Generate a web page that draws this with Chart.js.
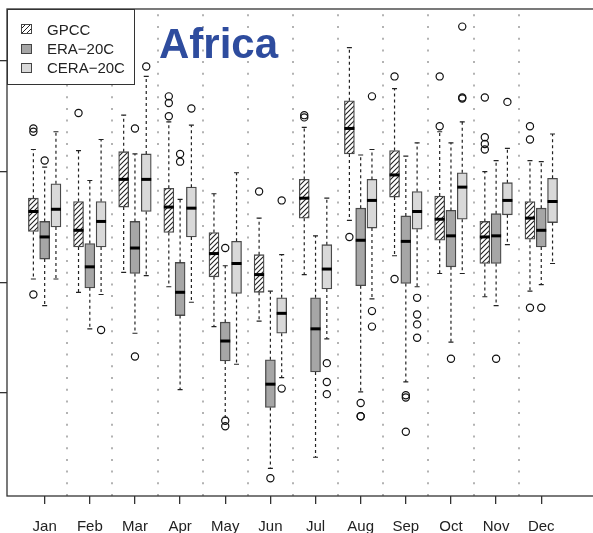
<!DOCTYPE html>
<html>
<head>
<meta charset="utf-8">
<script src="https://cdn.jsdelivr.net/npm/chart.js@4/dist/chart.umd.min.js"></script>
<style>
html, body { margin: 0; padding: 0; background: #fff; overflow: hidden; }
#wrap { position: relative; width: 600px; height: 533px; }
#title { position: absolute; left: 159px; top: 23px; font: bold 42px "Liberation Sans", Arial, sans-serif; line-height: 42px; color: #2e4c9e; }
#legend { position: absolute; left: 7px; top: 9px; width: 126px; height: 74px; border: 1.3px solid #333; background: #fff; }
.sw { position: absolute; left: 13px; width: 9px; height: 8px; border: 1.3px solid #444; }
.lt { position: absolute; left: 39px; font: 15px "Liberation Sans", Arial, sans-serif; line-height: 19px; color: #222; white-space: nowrap; }
</style>
</head>
<body>
<div id="wrap">
  <canvas id="boxes" width="600" height="533"></canvas>
  <div id="legend">
    <div class="sw" style="top:14px;background:repeating-linear-gradient(135deg,#fff 0 1.6px,#222 1.6px 2.6px,#fff 2.6px 3.6px)"></div>
    <div class="lt" style="top:10px">GPCC</div>
    <div class="sw" style="top:34px;background:#a6a6a6"></div>
    <div class="lt" style="top:29px">ERA−20C</div>
    <div class="sw" style="top:53px;background:#d9d9d9"></div>
    <div class="lt" style="top:48px">CERA−20C</div>
  </div>
  <div id="title">Africa</div>
</div>
<script>
// Mese per mese, tre dataset (GPCC, ERA-20C, CERA-20C)
const months = ['Jan', 'Feb', 'Mar', 'Apr', 'May', 'Jun', 'Jul', 'Aug', 'Sep', 'Oct', 'Nov', 'Dec'];
const yTicks = [0, 1, 2, 3];

const gpccLow  = [1.03, 0.91, 1.09, 0.96, 0.60, 0.65, 1.07, 1.56, 1.24, 1.08, 0.87, 0.92];
const gpccQ1   = [1.46, 1.32, 1.68, 1.45, 1.05, 0.91, 1.58, 2.16, 1.77, 1.38, 1.17, 1.39];
const gpccMed  = [1.64, 1.47, 1.93, 1.68, 1.26, 1.07, 1.76, 2.39, 1.97, 1.57, 1.41, 1.58];
const gpccQ3   = [1.76, 1.73, 2.18, 1.85, 1.45, 1.25, 1.93, 2.64, 2.19, 1.78, 1.55, 1.73];
const gpccHigh = [2.20, 2.19, 2.51, 2.45, 1.80, 1.58, 2.40, 3.12, 2.75, 2.36, 2.00, 2.10];
const gpccOut  = [[2.39, 2.36, 0.89], [2.53], [], [2.68, 2.62, 2.50], [], [1.82], [2.49, 2.51], [1.41], [2.86, 1.03], [2.86, 2.41], [2.67, 2.31, 2.25, 2.20], [2.41, 2.29, 0.77]];

const eraLow  = [0.79, 0.58, 0.54, 0.03, -0.22, -0.68, -0.58, 0.01, 0.10, 0.46, 0.79, 0.98];
const eraQ1   = [1.21, 0.95, 1.08, 0.70, 0.29, -0.13, 0.19, 0.97, 0.99, 1.14, 1.17, 1.32];
const eraMed  = [1.41, 1.14, 1.31, 0.91, 0.47, 0.08, 0.58, 1.38, 1.37, 1.42, 1.42, 1.47];
const eraQ3   = [1.55, 1.35, 1.55, 1.18, 0.64, 0.30, 0.86, 1.67, 1.60, 1.65, 1.62, 1.67];
const eraHigh = [2.04, 1.92, 2.16, 1.75, 1.15, 0.92, 1.42, 2.15, 2.14, 2.26, 2.10, 2.09];
const eraOut  = [[2.10], [], [2.39, 0.33], [2.16, 2.09], [1.31, -0.25, -0.30], [-0.77], [], [-0.09, -0.21, -0.21], [-0.02, -0.04, -0.35], [0.31], [0.31], [0.77]];

const ceraLow  = [1.03, 0.89, 1.06, 0.82, 0.26, 0.14, 0.49, 0.85, 0.96, 1.08, 1.34, 1.17];
const ceraQ1   = [1.50, 1.32, 1.64, 1.41, 0.90, 0.54, 0.94, 1.49, 1.48, 1.57, 1.61, 1.54];
const ceraMed  = [1.66, 1.55, 1.93, 1.67, 1.17, 0.72, 1.12, 1.74, 1.64, 1.86, 1.74, 1.73];
const ceraQ3   = [1.89, 1.73, 2.16, 1.86, 1.37, 0.86, 1.34, 1.93, 1.82, 1.99, 1.90, 1.94];
const ceraHigh = [2.36, 2.29, 2.86, 2.42, 1.99, 1.25, 1.76, 2.20, 2.26, 2.45, 2.21, 2.34];
const ceraOut  = [[], [0.57], [2.95], [2.57], [], [1.74, 0.04], [0.27, 0.10, -0.01], [2.68, 0.74, 0.60], [0.86, 0.71, 0.62, 0.50], [3.31, 2.67, 2.66], [2.63], []];

const ctx = document.getElementById('boxes').getContext('2d');

// tratteggio diagonale per GPCC
function hatch() {
    const c = document.createElement('canvas');
    c.width = 5; c.height = 5;
    const g = c.getContext('2d');
    g.fillStyle = '#fff';
    g.fillRect(0, 0, 5, 5);
    g.strokeStyle = '#222';
    g.lineWidth = 1.1;
    g.beginPath();
    g.moveTo(-1, 6); g.lineTo(6, -1);
    g.moveTo(-1, 1); g.lineTo(1, -1);
    g.moveTo(4, 6); g.lineTo(6, 4);
    g.stroke();
    return ctx.createPattern(c, 'repeat');
}

const series = [
    { name: 'GPCC', low: gpccLow, q1: gpccQ1, med: gpccMed, q3: gpccQ3, high: gpccHigh, out: gpccOut, fill: hatch(), shift: -0.25 },
    { name: 'ERA−20C', low: eraLow, q1: eraQ1, med: eraMed, q3: eraQ3, high: eraHigh, out: eraOut, fill: '#a6a6a6', shift: 0 },
    { name: 'CERA−20C', low: ceraLow, q1: ceraQ1, med: ceraMed, q3: ceraQ3, high: ceraHigh, out: ceraOut, fill: '#d9d9d9', shift: 0.25 }
];

const boxSets = series.map(s => ({
    type: 'bar',
    label: s.name,
    data: months.map((m, i) => ({ x: i + 1 + s.shift, y: [s.q1[i], s.q3[i]] })),
    backgroundColor: s.fill,
    borderColor: '#4a4a4a',
    borderWidth: 1.3,
    borderSkipped: false,
    barThickness: 10,
    grouped: false
}));

const outSets = series.map(s => ({
    type: 'scatter',
    label: s.name + ' outliers',
    data: months.flatMap((m, i) => s.out[i].map(v => ({ x: i + 1 + s.shift, y: v }))),
    pointRadius: 3.6,
    pointBorderWidth: 1.2,
    pointBorderColor: '#111',
    pointBackgroundColor: 'rgba(0,0,0,0)'
}));

// linee punteggiate tra i mesi + cornice
const gridPlugin = {
    id: 'monthSeparators',
    beforeDatasetsDraw(chart) {
        const { ctx, chartArea, scales: { x } } = chart;
        ctx.save();
        ctx.strokeStyle = '#b3b3b3';
        ctx.lineWidth = 2;
        ctx.setLineDash([2, 9.7]);
        for (let i = 1; i < months.length; i++) {
            const px = Math.round(x.getPixelForValue(i + 0.5));
            ctx.beginPath();
            ctx.moveTo(px, chartArea.bottom);
            ctx.lineTo(px, chartArea.top);
            ctx.stroke();
        }
        ctx.restore();
    },
    afterDraw(chart) {
        const { ctx, chartArea } = chart;
        ctx.save();
        ctx.strokeStyle = '#333';
        ctx.lineWidth = 1.3;
        ctx.strokeRect(chartArea.left, chartArea.top, chartArea.right - chartArea.left + 5, chartArea.bottom - chartArea.top);
        ctx.restore();
    }
};

// baffi, cappucci e mediane
const whiskerPlugin = {
    id: 'whiskers',
    afterDatasetsDraw(chart) {
        const { ctx, scales: { y } } = chart;
        ctx.save();
        series.forEach((s, k) => {
            const meta = chart.getDatasetMeta(k);
            meta.data.forEach((bar, i) => {
                const px = bar.x;
                const half = bar.width / 2;
                const yLo = y.getPixelForValue(s.low[i]);
                const yHi = y.getPixelForValue(s.high[i]);
                const yQ1 = y.getPixelForValue(s.q1[i]);
                const yQ3 = y.getPixelForValue(s.q3[i]);
                const yMed = y.getPixelForValue(s.med[i]);
                ctx.strokeStyle = '#222';
                ctx.lineWidth = 1.2;
                ctx.setLineDash([3, 3]);
                ctx.beginPath();
                ctx.moveTo(px, yQ3); ctx.lineTo(px, yHi);
                ctx.moveTo(px, yQ1); ctx.lineTo(px, yLo);
                ctx.stroke();
                ctx.setLineDash([]);
                ctx.beginPath();
                ctx.moveTo(px - half / 2, yHi); ctx.lineTo(px + half / 2, yHi);
                ctx.moveTo(px - half / 2, yLo); ctx.lineTo(px + half / 2, yLo);
                ctx.stroke();
                ctx.strokeStyle = '#000';
                ctx.lineWidth = 3;
                ctx.beginPath();
                ctx.moveTo(px - half, yMed); ctx.lineTo(px + half, yMed);
                ctx.stroke();
            });
        });
        ctx.restore();
    }
};

new Chart(ctx, {
    type: 'bar',
    data: { datasets: [...boxSets, ...outSets] },
    options: {
        responsive: false,
        animation: false,
        layout: { padding: { top: 9, left: 0, right: 0, bottom: 0 } },
        plugins: { legend: { display: false }, tooltip: { enabled: false } },
        scales: {
            x: {
                type: 'linear',
                min: 0.1657,
                max: 13.186,
                offset: false,
                afterBuildTicks: s => { s.ticks = months.map((m, i) => ({ value: i + 1 })); },
                afterFit: s => { s.height = 37; },
                ticks: {
                    autoSkip: false,
                    maxRotation: 0,
                    padding: 14,
                    color: '#222',
                    font: { family: 'Liberation Sans', size: 15 },
                    callback: v => months[v - 1]
                },
                grid: { offset: false, drawOnChartArea: false, tickLength: 8, color: '#333', lineWidth: 1.3 },
                border: { display: false }
            },
            y: {
                min: -0.93,
                max: 3.469,
                afterBuildTicks: s => { s.ticks = yTicks.map(v => ({ value: v })); },
                afterFit: s => { s.width = 7; },
                ticks: { display: false },
                grid: { drawOnChartArea: false, tickLength: 7, color: '#333', lineWidth: 1.3 },
                border: { display: false }
            }
        }
    },
    plugins: [gridPlugin, whiskerPlugin]
});
</script>
</body>
</html>
